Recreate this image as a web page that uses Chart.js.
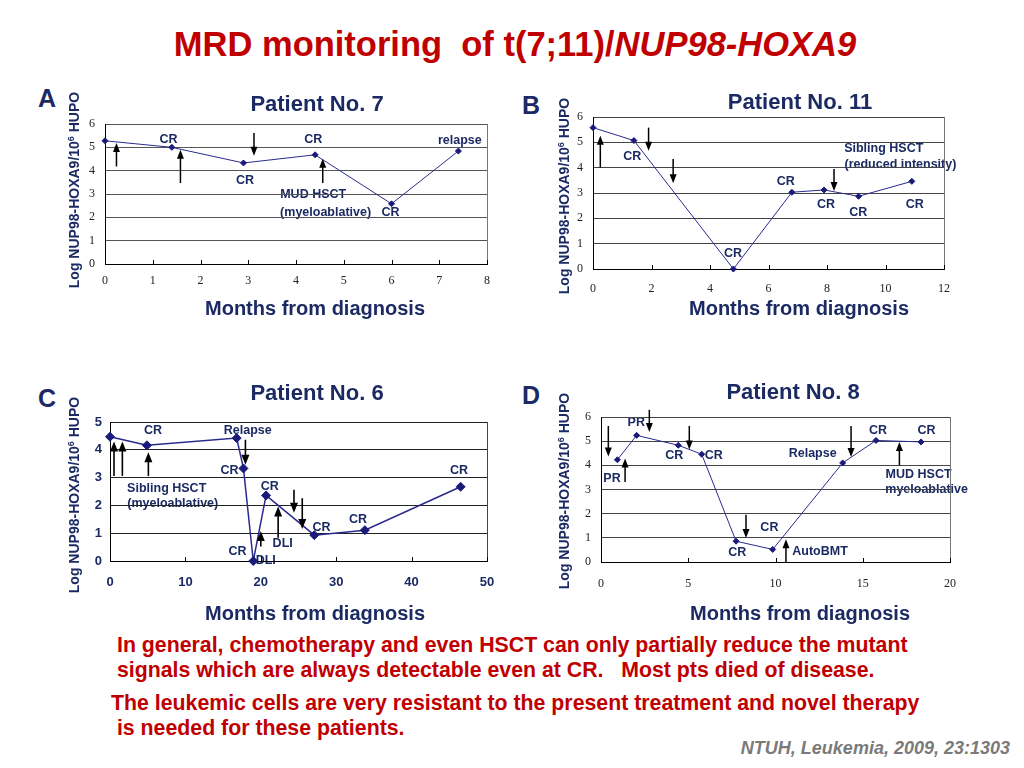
<!DOCTYPE html>
<html>
<head>
<meta charset="utf-8">
<script src="https://cdn.jsdelivr.net/npm/chart.js@4.4.0/dist/chart.umd.min.js"></script>
<style>
  html, body { margin: 0; padding: 0; background: #fff; }
  body { width: 1024px; height: 768px; position: relative; overflow: hidden; font-family: "Liberation Sans", Arial, sans-serif; }
  .t { position: absolute; white-space: pre; font-weight: bold; }
  canvas { position: absolute; }
  .red { color: #C00000; font-size: 21.3px; line-height: 26px; }
  .letter { color: #1B2A63; font-size: 25px; line-height: 30px; }
</style>
</head>
<body>
<div class="t" style="left:0;width:1030px;text-align:center;top:24px;font-size:34.5px;line-height:40px;color:#C00000;">MRD monitoring  of t(7;11)/<i>NUP98-HOXA9</i></div>

<div class="t letter" style="left:38px;top:83px;">A</div>
<div class="t letter" style="left:522px;top:90px;">B</div>
<div class="t letter" style="left:38px;top:383px;">C</div>
<div class="t letter" style="left:522px;top:380px;">D</div>

<canvas id="cA" width="460" height="240" style="left:55px;top:85px;"></canvas>
<canvas id="cB" width="470" height="240" style="left:545px;top:85px;"></canvas>
<canvas id="cC" width="460" height="255" style="left:55px;top:375px;"></canvas>
<canvas id="cD" width="470" height="255" style="left:545px;top:375px;"></canvas>

<div class="t red" style="left:117px;top:632px;">In general, chemotherapy and even HSCT can only partially reduce the mutant</div>
<div class="t red" style="left:117px;top:657px;">signals which are always detectable even at CR.   Most pts died of disease.</div>
<div class="t red" style="left:111px;top:690px;">The leukemic cells are very resistant to the present treatment and novel therapy</div>
<div class="t red" style="left:111px;top:715px;"> is needed for these patients.</div>
<div class="t" style="right:14px;top:737px;font-size:18px;line-height:22px;color:#7a7a7a;font-style:italic;">NTUH, Leukemia, 2009, 23:1303</div>

<script>
// ---------------- DATA ----------------
// Patient No. 7 (panel A)
const p7Months = [0, 1.4, 2.9, 4.4, 6.0, 7.4];
const p7Log    = [5.28, 5.0, 4.33, 4.68, 2.58, 4.84];
const p7Labels = [["CR", 1.33, 5.33], ["CR", 2.93, 3.57], ["CR", 4.36, 5.33], ["relapse", 7.43, 5.29],
                  ["MUD HSCT", 4.36, 2.97], ["(myeloablative)", 4.62, 2.22], ["CR", 5.98, 2.21]];
const p7Arrows = [[0.24, 4.18, 5.19], [1.58, 3.47, 4.9], [3.12, 5.61, 4.64], [4.56, 3.47, 4.51]];

// Patient No. 11 (panel B)
const p11Months = [0, 1.4, 4.8, 6.8, 7.9, 9.08, 10.9];
const p11Log    = [5.58, 5.07, 0, 3.03, 3.12, 2.87, 3.46];
const p11Labels = [["CR", 1.34, 4.43], ["CR", 6.59, 3.47], ["CR", 4.79, 0.62], ["CR", 7.97, 2.56],
                   ["CR", 9.07, 2.23], ["CR", 11.0, 2.56], ["Sibling HSCT", 9.94, 4.76], ["(reduced intensity)", 10.51, 4.14]];
const p11Arrows = [[0.25, 4.01, 5.26], [1.90, 5.58, 4.67], [2.74, 4.34, 3.38], [8.24, 3.95, 3.08]];

// Patient No. 6 (panel C)
const p6Months = [0, 4.9, 16.8, 17.7, 19.0, 20.7, 27.1, 33.8, 46.5];
const p6Log    = [4.47, 4.16, 4.42, 3.33, 0, 2.36, 0.93, 1.11, 2.67];
const p6Labels = [["CR", 5.71, 4.69], ["Relapse", 18.27, 4.71], ["CR", 15.84, 3.25], ["Sibling HSCT", 7.52, 2.62],
                  ["(myeloablative)", 8.32, 2.06], ["CR", 21.2, 2.67], ["CR", 16.9, 0.34], ["DLI", 20.66, 0.02],
                  ["DLI", 22.9, 0.61], ["CR", 28.05, 1.19], ["CR", 32.9, 1.49], ["CR", 46.3, 3.25]];
const p6Arrows = [[0.53, 3.06, 4.30], [1.64, 3.06, 4.30], [5.09, 3.06, 3.91], [17.96, 4.36, 3.46],
                  [20.0, 0.52, 1.08], [22.3, 0.84, 1.96], [24.4, 2.56, 1.74], [25.5, 2.26, 1.15]];

// Patient No. 8 (panel D)
const p8Months = [0.94, 2.04, 4.43, 5.77, 7.74, 9.84, 13.85, 15.76, 18.34];
const p8Log    = [4.23, 5.24, 4.83, 4.46, 0.86, 0.52, 4.10, 5.03, 4.97];
const p8Labels = [["PR", 2.02, 5.79], ["CR", 4.2, 4.41], ["CR", 6.46, 4.41], ["PR", 0.63, 3.45], ["Relapse", 12.13, 4.48],
                  ["CR", 15.87, 5.42], ["CR", 18.66, 5.42], ["MUD HSCT", 18.2, 3.61], ["myeloablative", 18.66, 3.0],
                  ["CR", 9.65, 1.42], ["CR", 7.81, 0.41], ["AutoBMT", 12.55, 0.44]];
const p8Arrows = [[0.42, 5.63, 4.37], [1.38, 3.31, 4.28], [2.77, 6.3, 5.38], [5.06, 5.63, 4.66],
                  [8.31, 1.96, 0.99], [10.6, 0, 0.94], [14.33, 5.63, 4.34], [17.1, 4.0, 4.97]];

const patientTitles = ["Patient No. 7", "Patient No. 11", "Patient No. 6", "Patient No. 8"];
const xAxisTitle = "Months from diagnosis";
const yAxisTitleParts = ["Log NUP98-HOXA9/10", "6", " HUPO"];

// ---------------- STYLE ----------------
const NAVY = '#1B2A63';
const SANS = '"Liberation Sans", Arial, sans-serif';
const SERIF = '"Liberation Serif", "Times New Roman", serif';

const panelInfo = {};

function drawArrow(ctx, px, py0, py1, hw, hl) {
  const dir = Math.sign(py1 - py0);
  ctx.beginPath();
  ctx.moveTo(px, py0);
  ctx.lineTo(px, py1 - dir * hl * 0.6);
  ctx.stroke();
  ctx.beginPath();
  ctx.moveTo(px, py1);
  ctx.lineTo(px - hw / 2, py1 - dir * hl);
  ctx.lineTo(px + hw / 2, py1 - dir * hl);
  ctx.closePath();
  ctx.fill();
}

const decor = {
  id: 'decor',
  beforeDraw(chart) {
    const info = panelInfo[chart.canvas.id];
    const { ctx, scales: { x, y } } = chart;
    ctx.save();
    ctx.fillStyle = NAVY;
    ctx.font = `bold ${info.labelSize}px ${SANS}`;
    ctx.textAlign = 'center';
    ctx.textBaseline = 'middle';
    info.labels.forEach(([txt, lx, ly]) => {
      ctx.fillText(txt, x.getPixelForValue(lx), y.getPixelForValue(ly));
    });
    ctx.restore();
  },
  afterDraw(chart) {
    const info = panelInfo[chart.canvas.id];
    const { ctx, chartArea: a, scales: { x, y } } = chart;
    ctx.save();
    // right border of plot box
    ctx.strokeStyle = info.boxColor;
    ctx.lineWidth = 1;
    ctx.beginPath();
    ctx.moveTo(Math.round(a.right) + 0.5, a.top);
    ctx.lineTo(Math.round(a.right) + 0.5, a.bottom);
    ctx.stroke();
    // small inside tick marks on the x axis
    ctx.strokeStyle = '#000';
    x.ticks.forEach(t => {
      if (t.value === x.min) return;
      const px = Math.round(x.getPixelForValue(t.value)) + 0.5;
      ctx.beginPath();
      ctx.moveTo(px, a.bottom);
      ctx.lineTo(px, a.bottom - 4);
      ctx.stroke();
    });
    // arrows
    ctx.strokeStyle = '#000';
    ctx.fillStyle = '#000';
    ctx.lineWidth = info.arrowWidth;
    info.arrows.forEach(([ax, y0, y1]) => {
      drawArrow(ctx, x.getPixelForValue(ax), y.getPixelForValue(y0), y.getPixelForValue(y1), info.headW, info.headL);
    });
    // patient title
    ctx.fillStyle = NAVY;
    ctx.textAlign = 'center';
    ctx.textBaseline = 'alphabetic';
    ctx.font = `bold 22px ${SANS}`;
    ctx.fillText(info.title, info.titlePos[0], info.titlePos[1]);
    // x axis title
    ctx.font = `bold 20px ${SANS}`;
    ctx.fillText(xAxisTitle, info.xTitlePos[0], info.xTitlePos[1]);
    // y axis title (rotated, with superscript)
    ctx.translate(info.yTitlePos[0], info.yTitlePos[1]);
    ctx.rotate(-Math.PI / 2);
    ctx.textAlign = 'left';
    const big = `bold 14px ${SANS}`, small = `bold 9px ${SANS}`;
    ctx.font = big;
    const wa = ctx.measureText(yAxisTitleParts[0]).width;
    const wc = ctx.measureText(yAxisTitleParts[2]).width;
    ctx.font = small;
    const wb = ctx.measureText(yAxisTitleParts[1]).width;
    let x0 = -(wa + wb + wc) / 2;
    ctx.font = big; ctx.fillText(yAxisTitleParts[0], x0, 0);
    ctx.font = small; ctx.fillText(yAxisTitleParts[1], x0 + wa, -5.5);
    ctx.font = big; ctx.fillText(yAxisTitleParts[2], x0 + wa + wb, 0);
    ctx.restore();
  }
};

function makePanel(id, months, logs, cfg) {
  panelInfo[id] = cfg;
  const tickFont = cfg.boldTicks
    ? { family: SANS, size: 13, weight: 'bold' }
    : { family: SERIF, size: 12, weight: 'normal' };
  const tickColor = cfg.boldTicks ? NAVY : '#222';
  return new Chart(document.getElementById(id), {
    type: 'line',
    data: {
      datasets: [{
        data: months.map((m, i) => ({ x: m, y: logs[i] })),
        borderColor: '#2A2A8E',
        borderWidth: cfg.lineWidth,
        pointStyle: 'rectRot',
        pointRadius: cfg.pointRadius,
        pointBackgroundColor: '#1A1A7A',
        pointBorderColor: '#1A1A7A',
        pointBorderWidth: 1,
        tension: 0,
        fill: false,
        clip: false
      }]
    },
    options: {
      responsive: false,
      animation: false,
      events: [],
      layout: { padding: { top: cfg.padTop, right: cfg.padRight, left: 0, bottom: 0 } },
      plugins: { legend: { display: false }, tooltip: { enabled: false }, title: { display: false } },
      scales: {
        x: {
          type: 'linear', min: 0, max: cfg.xMax,
          ticks: { stepSize: cfg.xStep, font: tickFont, color: tickColor, padding: cfg.xPad, maxRotation: 0, autoSkip: false },
          grid: { display: false, drawTicks: false },
          border: { display: true, color: '#000', width: 1 },
          afterFit: s => { s.height = cfg.xH; }
        },
        y: {
          min: 0, max: cfg.yMax,
          ticks: { stepSize: 1, font: tickFont, color: tickColor, padding: cfg.yPad },
          grid: { color: cfg.gridColor, lineWidth: 1, drawTicks: false },
          border: { display: true, color: '#000', width: 1 },
          afterFit: s => { s.width = cfg.yW; }
        }
      }
    },
    plugins: [decor]
  });
}

makePanel('cA', p7Months, p7Log, {
  labels: p7Labels, arrows: p7Arrows, title: patientTitles[0],
  xMax: 8, xStep: 1, yMax: 6, padTop: 39, padRight: 28, yW: 50, xH: 61, xPad: 10, yPad: 10,
  titlePos: [262, 26], xTitlePos: [260, 230], yTitlePos: [24, 105],
  labelSize: 12.5, lineWidth: 1, pointRadius: 3, gridColor: '#555', boxColor: '#777',
  arrowWidth: 1.5, headW: 7, headL: 9, boldTicks: false
});
makePanel('cB', p11Months, p11Log, {
  labels: p11Labels, arrows: p11Arrows, title: patientTitles[1],
  xMax: 12, xStep: 2, yMax: 6, padTop: 32, padRight: 71, yW: 48, xH: 56, xPad: 13, yPad: 10,
  titlePos: [255, 24], xTitlePos: [254, 230], yTitlePos: [24, 111],
  labelSize: 12.5, lineWidth: 1, pointRadius: 3, gridColor: '#444', boxColor: '#777',
  arrowWidth: 1.5, headW: 7, headL: 9, boldTicks: false
});
makePanel('cC', p6Months, p6Log, {
  labels: p6Labels, arrows: p6Arrows, title: patientTitles[2],
  xMax: 50, xStep: 10, yMax: 5, padTop: 47, padRight: 28, yW: 55, xH: 69, xPad: 14, yPad: 8,
  titlePos: [262, 25], xTitlePos: [260, 245], yTitlePos: [24, 120],
  labelSize: 12.5, lineWidth: 1.5, pointRadius: 4.5, gridColor: '#222', boxColor: '#444',
  arrowWidth: 1.6, headW: 8, headL: 10, boldTicks: true
});
makePanel('cD', p8Months, p8Log, {
  labels: p8Labels, arrows: p8Arrows, title: patientTitles[3],
  xMax: 20, xStep: 5, yMax: 6, padTop: 42, padRight: 65, yW: 56, xH: 68, xPad: 15, yPad: 10,
  titlePos: [248, 24], xTitlePos: [255, 245], yTitlePos: [24, 116],
  labelSize: 12.5, lineWidth: 1, pointRadius: 3, gridColor: '#444', boxColor: '#777',
  arrowWidth: 1.5, headW: 7, headL: 9, boldTicks: false
});
</script>
</body>
</html>
